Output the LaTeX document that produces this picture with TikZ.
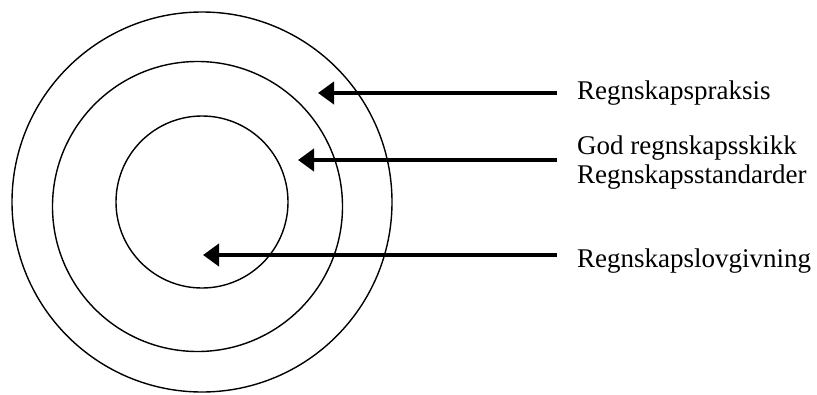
\documentclass[tikz,border=0pt]{standalone}
\usepackage{fontspec}
\setmainfont{Liberation Serif}
\usetikzlibrary{arrows.meta}

\tikzset{
  ring/.style={draw, line width=1.4pt},
  pointer/.style={-{Triangle[length=16pt,width=22pt]}, line width=4pt, shorten <=20pt},
  levellabel/.style={anchor=west, inner sep=0pt, align=left,
    font=\fontsize{27}{29}\selectfont}
}

\begin{document}
\begin{tikzpicture}[x=1pt,y=-1pt]
    \useasboundingbox (0,0) rectangle (817,394);

    % the three levels
    \draw[ring] (202,202) circle[radius=190];
    \draw[ring] (197.5,206.5) circle[radius=145];
    \draw[ring] (202,202) circle[radius=86];

    % labels
    \node[levellabel] (praksis) at (577,93) {Regnskapspraksis};
    \node[levellabel] (skikk) at (577,163) {God regnskapsskikk\\Regnskapsstandarder};
    \node[levellabel] (lov) at (577,261) {Regnskapslovgivning};

    % arrow tips
    \coordinate (praksis-tip) at (318,93);
    \coordinate (skikk-tip) at (298,160);
    \coordinate (lov-tip) at (203,255);

    \draw[pointer] (praksis.west |- praksis-tip) -- (praksis-tip);
    \draw[pointer] (skikk.west |- skikk-tip) -- (skikk-tip);
    \draw[pointer] (lov.west |- lov-tip) -- (lov-tip);
  \end{tikzpicture}
\end{document}
